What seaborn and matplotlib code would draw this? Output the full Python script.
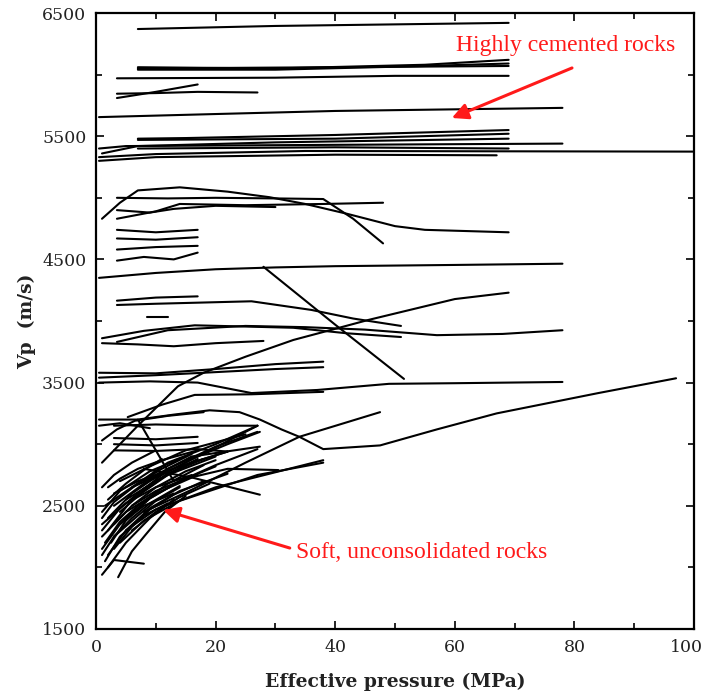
import matplotlib
matplotlib.use("Agg")
import matplotlib.pyplot as plt
from matplotlib.ticker import MultipleLocator
import matplotlib.transforms as mtransforms
import numpy as np
import pandas as pd
import seaborn as sns

# Velocity-versus-pressure curves, one (pressure, Vp) pair of lists per sample.
# Pressure in MPa, Vp in m/s.

cemented = [
    ([7, 30, 69], [6370, 6395, 6420]),
    ([7, 30, 55, 69], [6060, 6050, 6080, 6120]),
    ([7, 30, 55, 69], [6040, 6040, 6070, 6090]),
    ([7, 40, 69], [6050, 6060, 6070]),
    ([3.5, 30, 50, 69], [5970, 5975, 5990, 5990]),
    ([3.5, 10, 17], [5810, 5860, 5920]),
    ([3.5, 10, 17, 27], [5845, 5850, 5860, 5855]),
    ([0.5, 20, 40, 78], [5655, 5680, 5705, 5730]),
    ([7, 15, 40, 69], [5480, 5485, 5510, 5550]),
    ([7, 40, 69], [5470, 5480, 5520]),
    ([1, 7, 30, 69], [5360, 5420, 5450, 5480]),
    ([0.5, 5, 40, 78], [5400, 5420, 5430, 5440]),
    ([0.5, 10, 35, 100], [5330, 5355, 5380, 5375]),
    ([0.5, 10, 40, 67], [5300, 5330, 5350, 5345]),
    ([7, 40, 69], [5400, 5410, 5400]),
]

intermediate = [
    ([1, 4, 7, 14, 22, 29, 35, 42, 50, 55, 69],
     [4830, 4960, 5060, 5085, 5050, 5005, 4950, 4870, 4770, 4740, 4720]),
    ([3.5, 12, 20, 30, 38, 43, 48], [5000, 4995, 5000, 4995, 4990, 4830, 4630]),
    ([3.5, 10, 14, 25, 38, 48], [4830, 4890, 4950, 4940, 4950, 4960]),
    ([3.5, 9, 13, 20, 30], [4900, 4880, 4910, 4935, 4925]),
    ([3.5, 10, 17], [4740, 4720, 4740]),
    ([3.5, 10, 17], [4670, 4660, 4680]),
    ([3.5, 10, 17], [4580, 4600, 4610]),
    ([3.5, 8, 13, 17], [4490, 4520, 4500, 4555]),
    ([0.5, 10, 20, 30, 40, 60, 78], [4350, 4390, 4420, 4435, 4445, 4455, 4465]),
    ([28, 40, 51.5], [4440, 3970, 3530]),
    ([3.5, 10, 17], [4165, 4190, 4200]),
    ([3.5, 10, 18, 26, 36, 43, 51], [4130, 4140, 4150, 4160, 4090, 4020, 3960]),
    ([8.5, 12], [4030, 4030]),
    ([1, 7, 13.7, 18, 25, 33, 40.5, 45.5, 60, 69],
     [2850, 3150, 3470, 3580, 3710, 3846, 3943, 4008, 4178, 4230]),
    ([1, 8, 16.5, 25, 33, 42, 51], [3860, 3920, 3965, 3955, 3945, 3900, 3870]),
    ([3.5, 12, 25, 35, 45, 57, 68, 78], [3830, 3925, 3960, 3950, 3930, 3885, 3895, 3925]),
    ([1, 7, 13, 20, 28], [3820, 3810, 3795, 3820, 3838]),
    ([0.5, 10, 20, 30, 38], [3580, 3575, 3610, 3650, 3670]),
    ([0.5, 10, 20, 30, 38], [3540, 3560, 3585, 3610, 3625]),
    ([0.5, 9, 17, 26, 37, 49, 60, 78], [3500, 3510, 3500, 3415, 3440, 3490, 3495, 3505]),
    ([5.3, 11, 16.5, 26, 38], [3220, 3320, 3400, 3405, 3425]),
    ([0.5, 7, 13, 19, 24, 27.4, 31, 34, 38, 47.5, 57, 67, 84, 97],
     [3200, 3200, 3240, 3275, 3260, 3200, 3120, 3060, 2960, 2990, 3120, 3250, 3415, 3535]),
    ([8, 16, 25, 34, 47.5], [2450, 2630, 2850, 3060, 3260]),
]

soft = [
    ([3, 10, 20, 27], [3150, 3160, 3150, 3150]),
    ([3, 10, 17], [3050, 3040, 3060]),
    ([3, 10, 17], [3000, 2990, 3010]),
    ([3, 10, 17, 22], [2950, 2945, 2960, 2940]),
    ([1, 3.5, 6.5, 12, 18], [3030, 3120, 3190, 3230, 3260]),
    ([7, 10, 13], [3200, 2950, 2700]),
    ([0.5, 4, 9], [3150, 3170, 3130]),
    ([1, 5, 10, 17], [2250, 2450, 2600, 2750]),
    ([1, 4, 8, 13], [2150, 2350, 2500, 2600]),
    ([1.5, 4, 8, 12], [2050, 2250, 2420, 2520]),
    ([2, 6, 12, 20], [2300, 2550, 2750, 2900]),
    ([2, 6, 12, 20, 27], [2400, 2600, 2800, 2980, 3100]),
    ([1, 5, 10, 16], [2350, 2520, 2650, 2750]),
    ([3, 8, 15, 27], [2500, 2680, 2850, 3150]),
    ([3, 7, 14, 22], [2600, 2700, 2820, 2940]),
    ([1.5, 6, 12], [2500, 2650, 2780]),
    ([4, 8, 14, 27, 38], [2200, 2380, 2540, 2750, 2850]),
    ([5, 10, 20, 38], [2300, 2470, 2650, 2870]),
    ([3.7, 6, 8.2, 11.5, 15], [1920, 2130, 2260, 2450, 2580]),
    ([1, 3, 8], [1940, 2060, 2030]),
    ([2, 5, 9, 14, 22], [2100, 2300, 2480, 2620, 2760]),
    ([8, 16, 27.4], [2800, 2730, 2590]),
    ([5, 10, 16, 22], [2550, 2700, 2850, 2940]),
    ([6, 12, 20, 27], [2650, 2850, 3000, 3150]),
    ([8, 16, 27.4], [2700, 2900, 2980]),
    ([1, 4, 9, 15], [2450, 2620, 2780, 2900]),
    ([2.5, 5, 9, 14, 20], [2200, 2380, 2560, 2700, 2820]),
    ([1, 3, 6, 10], [2650, 2750, 2850, 2950]),
    ([4, 7, 12, 18], [2350, 2500, 2680, 2830]),
    ([6, 10, 15, 22, 30.5], [2500, 2620, 2720, 2800, 2790]),
    ([1, 4, 8, 12, 18], [2300, 2480, 2640, 2760, 2880]),
    ([2, 5, 9, 13], [2000, 2200, 2400, 2550]),
    ([1, 3, 7, 11, 16], [2400, 2530, 2680, 2800, 2920]),
    ([3, 6, 10, 15, 20], [2350, 2500, 2650, 2780, 2870]),
    ([4, 8, 12, 17], [2450, 2620, 2760, 2880]),
    ([2, 5, 8, 11], [2550, 2680, 2790, 2880]),
    ([1, 3, 6, 9, 14], [2100, 2250, 2400, 2520, 2660]),
    ([5, 9, 14, 20, 27], [2400, 2560, 2700, 2830, 2960]),
    ([6, 10, 14, 19], [2300, 2450, 2570, 2680]),
    ([3, 7, 10, 14], [2250, 2420, 2540, 2650]),
    ([2, 4, 7, 11, 17], [2650, 2720, 2800, 2870, 2950]),
    ([7, 11, 16, 22, 27.4], [2600, 2750, 2880, 3000, 3100]),
    ([1.5, 4, 7, 10], [2200, 2370, 2500, 2600]),
    ([4, 9, 15, 25], [2700, 2820, 2950, 3080]),
    ([3, 6, 9, 13, 18], [2150, 2330, 2470, 2590, 2700]),
]

x_ticks = [0, 20, 40, 60, 80, 100]
y_ticks = [1500, 2500, 3500, 4500, 5500, 6500]

records = []
sample = 0
for group in (cemented, intermediate, soft):
    for xs, ys in group:
        for px, vy in zip(xs, ys):
            records.append((px, vy, sample))
        sample += 1
df = pd.DataFrame(records, columns=["pressure", "vp", "sample"])

sns.set_style("ticks")
plt.rcParams["font.family"] = ["DejaVu Serif"]

fig = plt.figure(figsize=(7.06, 6.96), dpi=100)
ax = fig.add_axes([0.136, 0.0963, 0.847, 0.885])

sns.lineplot(data=df, x="pressure", y="vp", units="sample", estimator=None,
             sort=False, color="black", lw=1.5, legend=False, ax=ax)

ax.set_xlim(0, 100)
ax.set_ylim(1500, 6500)
ax.set_xticks(x_ticks)
ax.set_yticks(y_ticks)
ax.xaxis.set_minor_locator(MultipleLocator(10))
ax.yaxis.set_minor_locator(MultipleLocator(500))
ax.tick_params(which="both", direction="in", top=True, right=True,
               width=1.2, color="black", labelsize=12.5, labelcolor="#222222")
ax.tick_params(which="major", length=6, pad=7)
ax.tick_params(which="minor", length=4)
for sp in ax.spines.values():
    sp.set_linewidth(1.6)
    sp.set_color("black")

# keep the last pressure label inside the figure edge
fig.canvas.draw()
last = ax.get_xticklabels()[-1]
last.set_transform(last.get_transform() +
                   mtransforms.ScaledTranslation(-8 / 100, 0, fig.dpi_scale_trans))

ax.set_xlabel("Effective pressure (MPa)", fontsize=13.5, fontweight="bold",
              labelpad=12, color="#222222")
ax.set_ylabel("Vp  (m/s)", fontsize=13.5, fontweight="bold", labelpad=4,
              color="#222222")

red = "#ff1a1a"
ax.annotate("", xy=(59.5, 5648), xytext=(79.6, 6054),
            arrowprops=dict(arrowstyle="-|>", color=red, lw=2.2,
                            mutation_scale=24, shrinkA=0, shrinkB=0))
ax.text(78.6, 6240, "Highly cemented rocks", color=red, fontsize=17,
        family=["Liberation Serif"], ha="center", va="center")

ax.annotate("", xy=(11.2, 2466), xytext=(32.4, 2157),
            arrowprops=dict(arrowstyle="-|>", color=red, lw=2.2,
                            mutation_scale=24, shrinkA=0, shrinkB=0))
ax.text(54.5, 2117, "Soft, unconsolidated rocks", color=red, fontsize=17,
        family=["Liberation Serif"], ha="center", va="center")

fig.savefig("out.png", dpi=100)
